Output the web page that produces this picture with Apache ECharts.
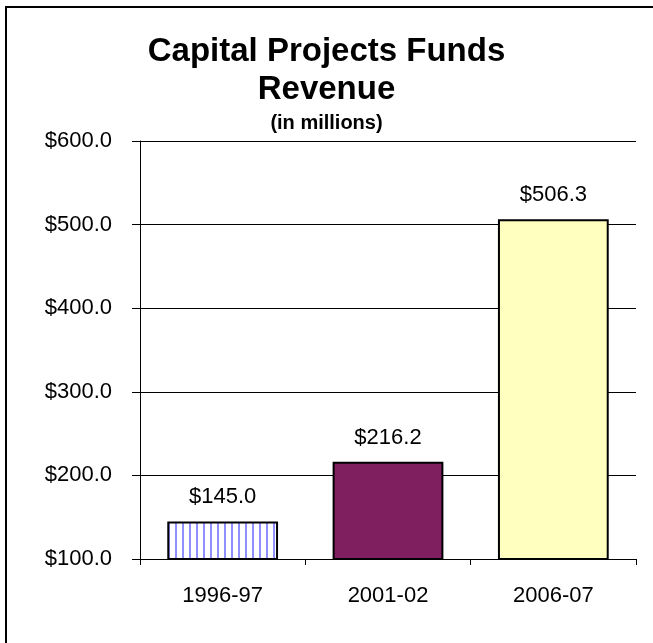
<!DOCTYPE html>
<html>
<head>
<meta charset="utf-8">
<script src="https://cdn.jsdelivr.net/npm/echarts@6/dist/echarts.min.js"></script>
<style>
  html, body { margin: 0; padding: 0; background: #fff; }
  #chart { width: 653px; height: 643px; }
</style>
</head>
<body>
<div id="chart"></div>
<script>
// Fiscal years and revenue (in millions of dollars)
const categories = ['1996-97', '2001-02', '2006-07'];
const revenue = [145.0, 216.2, 506.3];
const yTicks = [100, 200, 300, 400, 500, 600];

const FONT = '"Liberation Sans", Arial, sans-serif';

// Vertical-stripe fill for the first bar
function stripePattern() {
  const c = document.createElement('canvas');
  c.width = 7; c.height = 10;
  const g = c.getContext('2d');
  g.fillStyle = '#ffffff';
  g.fillRect(0, 0, 7, 10);
  g.fillStyle = '#8f8fff';
  g.fillRect(0, 0, 2, 10);
  return c;
}

const barFills = [
  { image: stripePattern(), repeat: 'repeat' },
  '#7f1f5f',
  '#ffffc0'
];

const chart = echarts.init(document.getElementById('chart'), null, { renderer: 'canvas' });

chart.setOption({
  backgroundColor: '#ffffff',
  animation: false,
  title: {
    text: 'Capital Projects Funds\nRevenue',
    subtext: '(in millions)',
    left: 'center',
    top: 28,
    itemGap: 3,
    textStyle: { fontFamily: FONT, fontSize: 33, fontWeight: 'bold', color: '#000', lineHeight: 38 },
    subtextStyle: { fontFamily: FONT, fontSize: 20, fontWeight: 'bold', color: '#000', lineHeight: 22 }
  },
  graphic: [
    { type: 'line', shape: { x1: 6, y1: 7, x2: 653, y2: 7 }, style: { stroke: '#000', lineWidth: 2 } },
    { type: 'line', shape: { x1: 6, y1: 6, x2: 6, y2: 643 }, style: { stroke: '#000', lineWidth: 2 } }
  ],
  grid: { left: 140, right: 17, top: 141, bottom: 84, containLabel: false },
  xAxis: {
    type: 'category',
    data: categories,
    axisLine: { lineStyle: { color: '#000', width: 1 } },
    axisTick: { show: true, length: 6, lineStyle: { color: '#000' } },
    axisLabel: { fontFamily: FONT, fontSize: 22, color: '#000', margin: 26 }
  },
  yAxis: {
    type: 'value',
    min: yTicks[0],
    max: yTicks[yTicks.length - 1],
    interval: 100,
    axisLine: { show: true, lineStyle: { color: '#000', width: 1 } },
    axisTick: { show: true, length: 8, lineStyle: { color: '#000' } },
    splitLine: { show: true, lineStyle: { color: '#000', width: 1 } },
    axisLabel: {
      fontFamily: FONT, fontSize: 22, color: '#000', margin: 28,
      formatter: v => '$' + v.toFixed(1)
    }
  },
  series: [{
    type: 'bar',
    barCategoryGap: '33%',
    data: revenue.map((v, i) => ({
      value: v,
      itemStyle: { color: barFills[i], borderColor: '#000', borderWidth: 2 }
    })),
    label: {
      show: true,
      position: 'top',
      distance: 13,
      fontFamily: FONT,
      fontSize: 22,
      color: '#000',
      formatter: p => '$' + p.value.toFixed(1)
    }
  }]
});
</script>
</body>
</html>
